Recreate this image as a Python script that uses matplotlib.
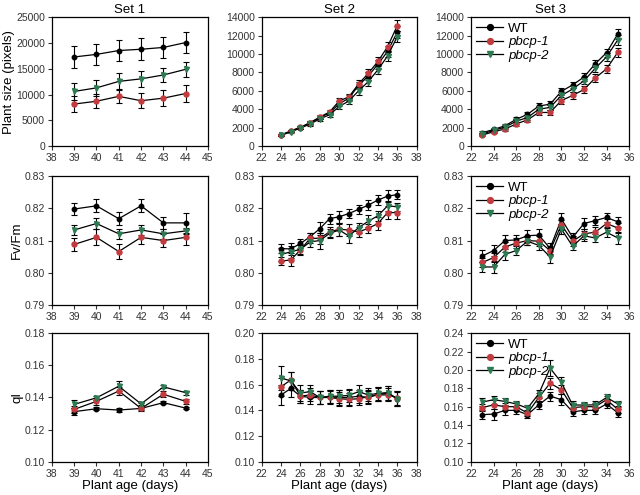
#!/usr/bin/env python3
import numpy as np
import matplotlib
matplotlib.use("Agg")
import matplotlib.pyplot as plt
from matplotlib.lines import Line2D
from matplotlib.ticker import MultipleLocator, FormatStrFormatter

plt.rcParams['font.family'] = ['Liberation Sans', 'DejaVu Sans']
plt.rcParams['font.size'] = 7.5

# ---------------- data ----------------
days1 = [39, 40, 41, 42, 43, 44]
days2 = list(range(24, 37))
days3 = list(range(23, 36))

# plant size (pixels)
size1_wt = [17300, 17800, 18550, 18800, 19150, 20100]
size1_p1 = [8150, 8700, 9650, 8800, 9300, 10200]
size1_p2 = [10600, 11300, 12550, 13050, 13800, 14900]
size1_wt_err = [2100, 2100, 2100, 2100, 2100, 2100]
size1_p1_err = [1500, 1400, 1350, 1450, 1600, 1650]
size1_p2_err = [1600, 1600, 1600, 1500, 1400, 1450]

size2_wt = [1200, 1600, 2000, 2500, 3100, 3600, 4600, 5200, 6600, 7600, 8900, 10300, 12400]
size2_p1 = [1200, 1650, 2050, 2550, 3150, 3700, 4900, 5350, 6750, 7900, 9200, 10800, 13100]
size2_p2 = [1150, 1550, 1950, 2400, 2950, 3400, 4300, 4900, 6000, 7000, 8300, 9800, 11900]
size2_wt_err = [100, 120, 150, 180, 200, 250, 300, 350, 400, 450, 500, 600, 700]
size2_p1_err = [100, 120, 150, 180, 200, 250, 300, 350, 400, 450, 500, 550, 600]
size2_p2_err = [100, 120, 150, 180, 200, 250, 300, 350, 400, 450, 500, 550, 600]

size3_wt = [1450, 1800, 2200, 2900, 3450, 4350, 4550, 5950, 6650, 7500, 8950, 10150, 12200]
size3_p1 = [1200, 1550, 1850, 2400, 2850, 3650, 3650, 4950, 5500, 6150, 7400, 8400, 10200]
size3_p2 = [1300, 1700, 2050, 2700, 3100, 4000, 4200, 5500, 6200, 7100, 8450, 9700, 11550]
size3_wt_err = [150, 180, 200, 250, 250, 300, 300, 350, 350, 400, 400, 450, 550]
size3_p1_err = [150, 180, 200, 250, 250, 300, 300, 350, 350, 400, 400, 450, 500]
size3_p2_err = [150, 180, 200, 250, 250, 300, 300, 350, 350, 400, 400, 450, 550]

# Fv/Fm
fv1_wt = [0.8198, 0.8208, 0.8168, 0.8208, 0.8155, 0.8155]
fv1_p1 = [0.8088, 0.8110, 0.8066, 0.8110, 0.8100, 0.8110]
fv1_p2 = [0.8133, 0.8153, 0.8121, 0.8133, 0.8121, 0.8130]
fv1_wt_err = [0.0018, 0.0020, 0.0020, 0.0020, 0.0018, 0.0030]
fv1_p1_err = [0.0020, 0.0025, 0.0022, 0.0022, 0.0020, 0.0025]
fv1_p2_err = [0.0015, 0.0018, 0.0015, 0.0015, 0.0015, 0.0010]

fv2_wt = [0.8075, 0.8074, 0.8091, 0.8112, 0.8137, 0.8168, 0.8174, 0.8184, 0.8197, 0.8210, 0.8226, 0.8238, 0.8243]
fv2_p1 = [0.8036, 0.8040, 0.8071, 0.8107, 0.8107, 0.8127, 0.8135, 0.8133, 0.8127, 0.8138, 0.8153, 0.8187, 0.8187]
fv2_p2 = [0.8057, 0.8065, 0.8073, 0.8096, 0.8100, 0.8122, 0.8133, 0.8114, 0.8140, 0.8160, 0.8177, 0.8208, 0.8205]
fv2_wt_err = [0.0015, 0.0018, 0.0015, 0.0012, 0.0020, 0.0015, 0.0018, 0.0015, 0.0015, 0.0015, 0.0015, 0.0018, 0.0015]
fv2_p1_err = [0.0012, 0.0020, 0.0015, 0.0015, 0.0018, 0.0015, 0.0020, 0.0020, 0.0015, 0.0015, 0.0020, 0.0020, 0.0020]
fv2_p2_err = [0.0020, 0.0018, 0.0015, 0.0015, 0.0025, 0.0015, 0.0020, 0.0020, 0.0015, 0.0018, 0.0015, 0.0015, 0.0012]

fv3_wt = [0.8052, 0.8069, 0.8100, 0.8102, 0.8115, 0.8117, 0.8076, 0.8167, 0.8110, 0.8153, 0.8162, 0.8172, 0.8158]
fv3_p1 = [0.8032, 0.8047, 0.8080, 0.8092, 0.8100, 0.8098, 0.8069, 0.8149, 0.8098, 0.8121, 0.8126, 0.8153, 0.8139]
fv3_p2 = [0.8018, 0.8018, 0.8057, 0.8069, 0.8098, 0.8085, 0.8049, 0.8136, 0.8082, 0.8115, 0.8108, 0.8126, 0.8108]
fv3_wt_err = [0.0018, 0.0018, 0.0018, 0.0015, 0.0018, 0.0020, 0.0018, 0.0018, 0.0015, 0.0018, 0.0015, 0.0015, 0.0015]
fv3_p1_err = [0.0015, 0.0015, 0.0015, 0.0015, 0.0015, 0.0015, 0.0015, 0.0015, 0.0015, 0.0015, 0.0015, 0.0015, 0.0015]
fv3_p2_err = [0.0015, 0.0018, 0.0018, 0.0015, 0.0012, 0.0015, 0.0020, 0.0015, 0.0012, 0.0015, 0.0012, 0.0015, 0.0018]

# qI
qi1_wt = [0.1312, 0.1330, 0.1322, 0.1332, 0.1368, 0.1334]
qi1_p1 = [0.1326, 0.1376, 0.1440, 0.1332, 0.1420, 0.1376]
qi1_p2 = [0.1357, 0.1398, 0.1470, 0.1360, 0.1466, 0.1430]
qi1_wt_err = [0.0020, 0.0010, 0.0015, 0.0010, 0.0008, 0.0006]
qi1_p1_err = [0.0020, 0.0020, 0.0025, 0.0015, 0.0020, 0.0015]
qi1_p2_err = [0.0025, 0.0012, 0.0030, 0.0008, 0.0010, 0.0012]

qi2_wt = [0.1520, 0.1570, 0.1510, 0.1500, 0.1500, 0.1506, 0.1500, 0.1500, 0.1510, 0.1500, 0.1525, 0.1532, 0.1490]
qi2_p1 = [0.1584, 0.1636, 0.1510, 0.1520, 0.1500, 0.1500, 0.1490, 0.1486, 0.1490, 0.1506, 0.1520, 0.1520, 0.1499]
qi2_p2 = [0.1650, 0.1630, 0.1535, 0.1545, 0.1500, 0.1510, 0.1510, 0.1517, 0.1545, 0.1520, 0.1532, 0.1538, 0.1490]
qi2_wt_err = [0.0075, 0.0065, 0.0050, 0.0050, 0.0050, 0.0050, 0.0055, 0.0055, 0.0050, 0.0050, 0.0055, 0.0055, 0.0060]
qi2_p1_err = [0.0070, 0.0060, 0.0050, 0.0050, 0.0050, 0.0050, 0.0055, 0.0050, 0.0050, 0.0050, 0.0050, 0.0050, 0.0055]
qi2_p2_err = [0.0095, 0.0070, 0.0060, 0.0050, 0.0050, 0.0050, 0.0050, 0.0050, 0.0050, 0.0050, 0.0050, 0.0055, 0.0055]

qi3_wt = [0.1513, 0.1520, 0.1560, 0.1560, 0.1513, 0.1620, 0.1715, 0.1676, 0.1544, 0.1560, 0.1560, 0.1630, 0.1532]
qi3_p1 = [0.1590, 0.1620, 0.1600, 0.1600, 0.1530, 0.1700, 0.1855, 0.1785, 0.1590, 0.1600, 0.1600, 0.1676, 0.1570]
qi3_p2 = [0.1650, 0.1676, 0.1657, 0.1630, 0.1583, 0.1740, 0.2019, 0.1864, 0.1618, 0.1618, 0.1620, 0.1700, 0.1630]
qi3_wt_err = [0.0050, 0.0060, 0.0050, 0.0040, 0.0035, 0.0045, 0.0050, 0.0060, 0.0040, 0.0035, 0.0040, 0.0040, 0.0045]
qi3_p1_err = [0.0040, 0.0050, 0.0040, 0.0040, 0.0035, 0.0045, 0.0060, 0.0050, 0.0040, 0.0035, 0.0040, 0.0040, 0.0040]
qi3_p2_err = [0.0045, 0.0045, 0.0040, 0.0035, 0.0030, 0.0045, 0.0090, 0.0060, 0.0040, 0.0035, 0.0040, 0.0035, 0.0035]

set_titles = ['Set 1', 'Set 2', 'Set 3']
row_labels = ['Plant size (pixels)', 'Fv/Fm', 'qI']
series_labels = ['WT', 'pbcp-1', 'pbcp-2']

# ---------------- style ----------------
red = '#c43b3f'
green = '#2e7a52'
styles = [
    dict(marker='o', mfc='black', mec='black', ms=3.2),
    dict(marker='o', mfc=red, mec=red, ms=3.6),
    dict(marker='v', mfc=green, mec=green, ms=3.6),
]

panels = [
    [(days1, [(size1_wt, size1_wt_err), (size1_p1, size1_p1_err), (size1_p2, size1_p2_err)]),
     (days2, [(size2_wt, size2_wt_err), (size2_p1, size2_p1_err), (size2_p2, size2_p2_err)]),
     (days3, [(size3_wt, size3_wt_err), (size3_p1, size3_p1_err), (size3_p2, size3_p2_err)])],
    [(days1, [(fv1_wt, fv1_wt_err), (fv1_p1, fv1_p1_err), (fv1_p2, fv1_p2_err)]),
     (days2, [(fv2_wt, fv2_wt_err), (fv2_p1, fv2_p1_err), (fv2_p2, fv2_p2_err)]),
     (days3, [(fv3_wt, fv3_wt_err), (fv3_p1, fv3_p1_err), (fv3_p2, fv3_p2_err)])],
    [(days1, [(qi1_wt, qi1_wt_err), (qi1_p1, qi1_p1_err), (qi1_p2, qi1_p2_err)]),
     (days2, [(qi2_wt, qi2_wt_err), (qi2_p1, qi2_p1_err), (qi2_p2, qi2_p2_err)]),
     (days3, [(qi3_wt, qi3_wt_err), (qi3_p1, qi3_p1_err), (qi3_p2, qi3_p2_err)])],
]

xlims = [(38, 45, 1), (22, 38, 2), (22, 36, 2)]
ylims = [
    [(0, 25000, 5000), (0, 14000, 2000), (0, 14000, 2000)],
    [(0.79, 0.83, 0.01)] * 3,
    [(0.10, 0.18, 0.02), (0.10, 0.20, 0.02), (0.10, 0.24, 0.02)],
]

lefts = [0.081, 0.409, 0.736]
widths = [0.244, 0.242, 0.247]
bottoms = [0.705, 0.384, 0.067]
height = 0.260

fig = plt.figure(figsize=(6.4, 4.95), dpi=100)

for r in range(3):
    for c in range(3):
        ax = fig.add_axes([lefts[c], bottoms[r], widths[c], height])
        x, series = panels[r][c]
        for (y, e), st in zip(series, styles):
            ax.errorbar(x, y, yerr=e, color='black', lw=0.9, elinewidth=0.8,
                        capsize=2.2, capthick=0.8, **st)
        x0, x1, xs = xlims[c]
        ax.set_xlim(x0, x1)
        ax.xaxis.set_major_locator(MultipleLocator(xs))
        y0, y1, ys = ylims[r][c]
        ax.set_ylim(y0, y1)
        ax.yaxis.set_major_locator(MultipleLocator(ys))
        if r > 0:
            ax.yaxis.set_major_formatter(FormatStrFormatter('%.2f'))
        ax.tick_params(direction='out', length=3, width=0.8, labelsize=7.5,
                       top=False, right=False, colors='#333333', pad=2)
        for s in ax.spines.values():
            s.set_linewidth(0.9)
        if r == 0:
            ax.set_title(set_titles[c], fontsize=9.5, pad=3)
        if c == 0:
            ax.set_ylabel(row_labels[r], fontsize=9.5, labelpad=1)
        if r == 2:
            ax.set_xlabel('Plant age (days)', fontsize=9.5, labelpad=1)
        if c == 2:
            handles = [Line2D([], [], color='black', lw=0.9, **st) for st in styles]
            for h in handles:
                h.set_markersize(4.2)
            leg = ax.legend(handles, series_labels, loc='upper left', frameon=False,
                            fontsize=9.5, handlelength=2.0, handletextpad=0.4,
                            borderaxespad=0.2, labelspacing=0.1, borderpad=0.2)
            for t in leg.get_texts()[1:]:
                t.set_style('italic')

fig.savefig('out.png', dpi=100)
